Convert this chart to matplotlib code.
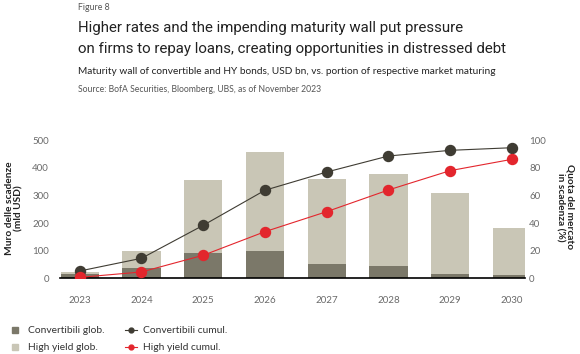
import matplotlib.pyplot as plt
from matplotlib.lines import Line2D
import numpy as np

plt.rcParams["font.family"] = ["Lato", "DejaVu Sans"]

years = ["2023", "2024", "2025", "2026", "2027", "2028", "2029", "2030"]
conv_glob = [17, 36, 92, 98, 52, 45, 17, 11]
total_glob = [24, 100, 355, 459, 361, 377, 308, 181]
hy_glob = [t - c for t, c in zip(total_glob, conv_glob)]
conv_cumul = [5.3, 14.5, 38.4, 63.8, 77.0, 88.6, 92.7, 94.6]
hy_cumul = [0.7, 4.6, 16.7, 33.8, 48.3, 64.0, 78.0, 86.2]

DARK = "#7b7869"
LIGHT = "#c9c6b6"
BLACK = "#3f3c33"
RED = "#e3262d"
TICK = "#6a6a6a"

fig = plt.figure(figsize=(5.8, 3.54), dpi=100)
ax = fig.add_axes([0.1034, 0.2138, 0.8017, 0.39])
ax2 = ax.twinx()

x = np.arange(len(years))
ax.bar(x, conv_glob, width=0.62, color=DARK, zorder=2)
ax.bar(x, hy_glob, width=0.62, bottom=conv_glob, color=LIGHT, zorder=2)
ax.set_xlim(-0.32, 7.21)
ax.set_ylim(0, 500)
ax.set_yticks(range(0, 501, 100))
ax.set_xticks(x, years)

ax2.plot(x, conv_cumul, color=BLACK, lw=0.8, marker="o", ms=7.2, zorder=3)
ax2.plot(x, hy_cumul, color=RED, lw=0.8, marker="o", ms=7.2, zorder=3)
ax2.set_ylim(0, 100)
ax2.set_yticks(range(0, 101, 20))

for a in (ax, ax2):
    for s in a.spines.values():
        s.set_visible(False)
    a.tick_params(length=0, labelsize=7, labelcolor=TICK)
ax.spines["bottom"].set_visible(True)
ax.spines["bottom"].set_linewidth(1.2)
ax.spines["bottom"].set_color("black")
ax.tick_params(axis="x", pad=13)
ax.tick_params(axis="y", pad=8)
ax2.tick_params(axis="y", pad=3)

fig.text(14 / 580, 1 - 208 / 354, "Muro delle scadenze\n(mld USD)", rotation=90,
         ha="center", va="center", fontsize=7.3, fontweight="bold", color="#222222",
         linespacing=1.1)
fig.text(565 / 580, 1 - 207 / 354, "Quota del mercato\nin scadenza (%)", rotation=-90,
         ha="center", va="center", fontsize=7.3, fontweight="bold", color="#222222",
         linespacing=1.1)

left = 78 / 580
title_font = dict(family=["Roboto", "DejaVu Sans"], fontweight="normal")
fig.text(left, 1 - 9.5 / 354, "Figure 8", fontsize=6.3, color="#555555", va="baseline")
fig.text(left, 1 - 32 / 354, "Higher rates and the impending maturity wall put pressure",
         fontsize=10.8, color="#222222", va="baseline", **title_font)
fig.text(left, 1 - 53.5 / 354, "on firms to repay loans, creating opportunities in distressed debt",
         fontsize=10.8, color="#222222", va="baseline", **title_font)
fig.text(left, 1 - 74 / 354,
         "Maturity wall of convertible and HY bonds, USD bn, vs. portion of respective market maturing",
         fontsize=7.25, color="#222222", va="baseline")
fig.text(left, 1 - 92 / 354, "Source: BofA Securities, Bloomberg, UBS, as of November 2023",
         fontsize=6.2, color="#555555", va="baseline")

handles = [
    Line2D([], [], ls="none", marker="s", ms=4.5, color=DARK),
    Line2D([], [], ls="none", marker="s", ms=4.5, color=LIGHT),
    Line2D([], [], color=BLACK, lw=0.8, marker="o", ms=3.5),
    Line2D([], [], color=RED, lw=0.8, marker="o", ms=3.5),
]
labels = ["Convertibili glob.", "High yield glob.", "Convertibili cumul.", "High yield cumul."]
fig.legend(handles, labels, ncol=2, loc="upper left", bbox_to_anchor=(7 / 580, 1 - 324 / 354),
           frameon=False, fontsize=7.4, labelcolor="#333333", handlelength=1.2,
           handletextpad=0.6, columnspacing=2.0, labelspacing=0.75, borderpad=0.2,
           borderaxespad=0)

fig.savefig("out.png", dpi=100)
